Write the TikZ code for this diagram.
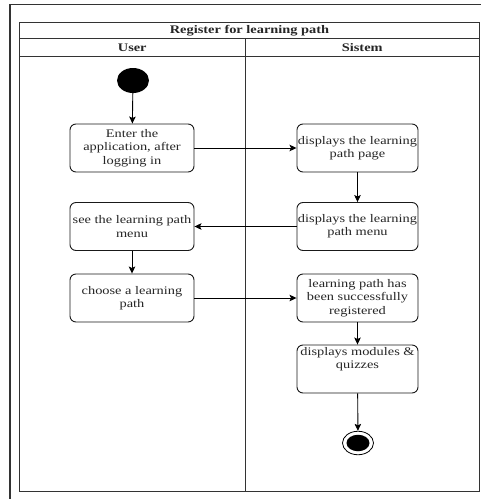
\documentclass[tikz,border=0pt]{standalone}
\usepackage{fontspec}
\setmainfont{Liberation Serif}[FakeStretch=1.24]
\usetikzlibrary{arrows.meta,shapes.geometric}
\begin{document}
\begin{tikzpicture}[x=1pt,y=-1pt,
  frame/.style={draw=black!80, line width=1.1pt},
  pool/.style={draw=black!80, line width=0.9pt},
  hdr/.style={font=\fontsize{11.6}{13.3}\selectfont\bfseries, text=black!85, inner sep=0pt},
  act/.style={draw=black!90, line width=0.9pt, rounded corners=6pt, fill=white,
    minimum width=124pt, minimum height=48pt, align=center, inner sep=1pt,
    font=\fontsize{11.6}{13.3}\selectfont, text=black!85},
  sysact/.style={act, minimum width=121pt},
  flow/.style={draw=black, line width=0.9pt, -{Stealth[length=7pt,width=6.5pt,inset=1.5pt]}},
]
\useasboundingbox (0,0) rectangle (481,499);

% outer frame (top and left edges)
\draw[frame] (10,499) -- (10,4.5) -- (481,4.5);

% swimlane pool
\draw[pool] (19.5,22) rectangle (479.5,491.5);
\draw[pool] (19.5,38.7) -- (479.5,38.7);
\draw[pool] (19.5,56.2) -- (479.5,56.2);
\draw[pool] (245,38.7) -- (245,491.5);

\node[hdr] (title) at (249.5,30.5) {Register for learning path};
\node[hdr] (laneuser) at (132.25,47.5) {User};
\node[hdr] (lanesys) at (362.25,47.5) {Sistem};

% initial state
\node[ellipse, fill=black, minimum width=32pt, minimum height=25pt, inner sep=0pt] (start) at (133,80.5) {};

% user activities
\node[act] (n1) at (132,148) {Enter the\\application, after\\logging in};
\node[act] (n4) at (132,226.5) {see the learning path\\menu};
\node[act] (n5) at (132,298) {choose a learning\\path};

% system activities
\node[sysact] (n2) at (357.5,148) {displays the learning\\path page};
\node[sysact] (n3) at (357.5,226.5) {displays the learning\\path menu};
\node[sysact] (n6) at (357.5,298) {learning path has\\been successfully\\registered};
\node[sysact] (n7) at (357.5,369) {};
\node[font=\fontsize{11.6}{13.3}\selectfont, text=black!85, align=center, inner sep=0pt] (n7text) at (357.5,359) {displays modules \&\\quizzes};

% final state
\node[ellipse, draw=black, line width=0.8pt, fill=white, minimum width=31pt, minimum height=23.5pt, inner sep=0pt] (end) at (358,443) {};
\node[ellipse, fill=black, minimum width=23pt, minimum height=16.5pt, inner sep=0pt] (endcore) at (end.center) {};

% control flow
\draw[flow] (start) -- (n1);
\draw[flow] (n1) -- (n2);
\draw[flow] (n2) -- (n3);
\draw[flow] (n3) -- (n4);
\draw[flow] (n4) -- (n5);
\draw[flow] (n5) -- (n6);
\draw[flow] (n6) -- (n7);
\draw[flow] (n7) -- (end);
\end{tikzpicture}
\end{document}
